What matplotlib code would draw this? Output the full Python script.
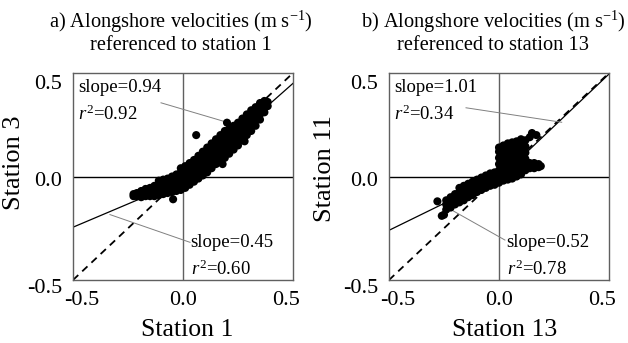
import matplotlib
matplotlib.use("Agg")
from matplotlib import pyplot as plt
from matplotlib.transforms import ScaledTranslation
import numpy as np

plt.rcParams['font.family'] = ['Liberation Serif', 'DejaVu Serif']
plt.rcParams['mathtext.fontset'] = 'custom'
plt.rcParams['mathtext.rm'] = 'Liberation Serif'
plt.rcParams['mathtext.it'] = 'Liberation Serif:italic'

# points (station 1 vs station 3), one column of y values per x
a_cols = [
    (-0.225, [-0.095, -0.085]),
    (-0.21, [-0.095, -0.08]),
    (-0.19, [-0.10, -0.085, -0.07]),
    (-0.17, [-0.095, -0.08, -0.06]),
    (-0.15, [-0.095, -0.075, -0.055]),
    (-0.13, [-0.095, -0.07, -0.045]),
    (-0.11, [-0.09, -0.065, -0.04, -0.02]),
    (-0.09, [-0.085, -0.06, -0.035, -0.015]),
    (-0.07, [-0.08, -0.055, -0.03, -0.01]),
    (-0.05, [-0.075, -0.05, -0.025, 0.0]),
    (-0.045, [-0.11]),
    (-0.03, [-0.07, -0.045, -0.02, 0.01]),
    (-0.01, [-0.065, -0.04, -0.01, 0.02, 0.04]),
    (0.01, [-0.055, -0.03, 0.0, 0.03, 0.05]),
    (0.03, [-0.04, -0.015, 0.015, 0.04, 0.065]),
    (0.05, [-0.025, 0.0, 0.03, 0.055, 0.08]),
    (0.07, [-0.01, 0.015, 0.045, 0.075, 0.10]),
    (0.09, [0.005, 0.03, 0.06, 0.09, 0.12]),
    (0.11, [0.02, 0.05, 0.08, 0.11, 0.14]),
    (0.13, [0.04, 0.07, 0.10, 0.13, 0.16]),
    (0.15, [0.06, 0.09, 0.12, 0.15, 0.18]),
    (0.17, [0.075, 0.105, 0.14, 0.17, 0.20]),
    (0.19, [0.09, 0.12, 0.155, 0.19, 0.22]),
    (0.21, [0.11, 0.14, 0.17, 0.205, 0.23]),
    (0.23, [0.13, 0.16, 0.19, 0.22, 0.245]),
    (0.25, [0.15, 0.18, 0.21, 0.24, 0.26]),
    (0.27, [0.175, 0.205, 0.23, 0.255, 0.28]),
    (0.29, [0.20, 0.225, 0.25, 0.275, 0.30]),
    (0.31, [0.22, 0.245, 0.27, 0.295, 0.32]),
    (0.33, [0.245, 0.27, 0.295, 0.315, 0.335]),
    (0.35, [0.275, 0.30, 0.32, 0.34, 0.355]),
    (0.37, [0.31, 0.33, 0.35, 0.365]),
    (0.385, [0.34, 0.36]),
    (0.06, [0.20]),
    (0.20, [0.26]),
    (0.28, [0.17]),
    (0.18, [0.06]),
]

# points (station 13 vs station 11)
b_cols = [
    (-0.28, [-0.12]),
    (-0.26, [-0.19]),
    (-0.25, [-0.185]),
    (-0.24, [-0.16, -0.135, -0.115]),
    (-0.22, [-0.15, -0.125, -0.10]),
    (-0.20, [-0.135, -0.11, -0.085]),
    (-0.18, [-0.125, -0.10, -0.075, -0.055]),
    (-0.16, [-0.115, -0.09, -0.065, -0.045]),
    (-0.14, [-0.10, -0.08, -0.055, -0.035]),
    (-0.12, [-0.09, -0.065, -0.045, -0.025]),
    (-0.10, [-0.075, -0.055, -0.035, -0.015]),
    (-0.08, [-0.065, -0.045, -0.025, -0.005]),
    (-0.06, [-0.055, -0.035, -0.015, 0.005]),
    (-0.04, [-0.045, -0.025, -0.005, 0.015]),
    (-0.02, [-0.04, -0.02, 0.0, 0.02]),
    (0.00, [-0.03, 0.0, 0.03, 0.06, 0.09, 0.12, 0.14]),
    (0.02, [-0.02, 0.01, 0.04, 0.07, 0.10, 0.13, 0.15]),
    (0.04, [-0.015, 0.015, 0.045, 0.075, 0.105, 0.135, 0.16]),
    (0.06, [-0.01, 0.02, 0.05, 0.08, 0.11, 0.14, 0.165]),
    (0.08, [0.0, 0.03, 0.06, 0.09, 0.12, 0.15, 0.17]),
    (0.10, [0.01, 0.04, 0.07, 0.10, 0.13, 0.16, 0.18]),
    (0.12, [0.03, 0.055, 0.085, 0.115, 0.145, 0.175]),
    (0.14, [0.04, 0.065, 0.19]),
    (0.16, [0.04, 0.065]),
    (0.18, [0.045, 0.06]),
    (0.19, [0.05]),
    (0.15, [0.21]),
    (0.17, [0.20]),
]

# fitted lines: (slope, intercept) for x<0 and x>0
a_fit = [(0.45, -0.02), (0.94, -0.02)]
b_fit = [(0.52, 0.0), (1.01, -0.01)]

a_labels = ["slope=0.94", "$r^2$=0.92", "slope=0.45", "$r^2$=0.60"]
b_labels = ["slope=1.01", "$r^2$=0.34", "slope=0.52", "$r^2$=0.78"]

ticks = [-0.5, 0.0, 0.5]
tick_labels = ["-0.5", "0.0", "0.5"]


def flatten(cols):
    xs, ys = [], []
    for x, yl in cols:
        for y in yl:
            xs.append(x)
            ys.append(y)
    return np.array(xs), np.array(ys)


fig = plt.figure(figsize=(6.28, 3.43), dpi=100)
W, H = 628, 343


def shift(lbl, dx_px, dy_px):
    lbl.set_transform(lbl.get_transform() + ScaledTranslation(dx_px / 100, dy_px / 100, fig.dpi_scale_trans))


def panel(left_px, cols, fit, labels, xlabel, ylabel, up_leader, low_leader):
    ax = fig.add_axes([left_px / W, (H - 280) / H, 220 / W, 207 / H])
    ax.set_xlim(-0.5, 0.5)
    ax.set_ylim(-0.5, 0.5)
    for s in ax.spines.values():
        s.set_color('#606060')
        s.set_linewidth(1.0)
    ax.axvline(0, color='#606060', lw=1.0, zorder=1)
    ax.axhline(0, color='black', lw=1.0, zorder=1)
    ax.plot([-0.5, 0.5], [-0.5, 0.5], color='black', lw=1.3, ls=(0, (4, 3)), zorder=2)
    xl = np.array([-0.5, 0.0])
    xr = np.array([0.0, 0.5])
    ax.plot(xl, fit[0][0] * xl + fit[0][1], color='black', lw=0.9, zorder=2)
    ax.plot(xr, fit[1][0] * xr + fit[1][1], color='black', lw=0.9, zorder=2)
    x, y = flatten(cols)
    ax.scatter(x, y, s=34, color='black', edgecolors='none', zorder=3)

    # annotations with leader lines
    ax.text(-0.475, 0.43, labels[0], fontsize=13.5, va='center', ha='left')
    ax.text(-0.475, 0.30, labels[1], fontsize=13.5, va='center', ha='left')
    ax.text(0.035, -0.318, labels[2], fontsize=13.5, va='center', ha='left')
    ax.text(0.035, -0.446, labels[3], fontsize=13.5, va='center', ha='left')
    ax.plot(up_leader[0], up_leader[1], color='#808080', lw=0.7, zorder=2)
    ax.plot(low_leader[0], low_leader[1], color='#808080', lw=0.7, zorder=2)

    ax.set_xticks(ticks)
    ax.set_xticklabels(tick_labels, fontsize=16)
    ax.set_yticks(ticks)
    ax.set_yticklabels(tick_labels, fontsize=16)
    ax.tick_params(length=0, pad=8)
    xt = ax.get_xticklabels()
    shift(xt[0], 9, 0)
    shift(xt[2], -7, 0)
    yt = ax.get_yticklabels()
    shift(yt[0], 0, -6)
    shift(yt[1], 0, -3)
    shift(yt[2], 0, -9)
    ax.set_xlabel(xlabel, fontsize=18.5)
    ax.set_ylabel(ylabel, fontsize=19)
    return ax


ax1 = panel(73, a_cols, a_fit, a_labels, "Station 1", "Station 3",
            ([-0.10, 0.20], [0.356, 0.262]), ([-0.332, 0.032], [-0.184, -0.318]))
ax2 = panel(389, b_cols, b_fit, b_labels, "Station 13", "Station 11",
            ([-0.15, 0.285], [0.332, 0.262]), ([-0.215, 0.027], [-0.162, -0.307]))

ax1.xaxis.set_label_coords(0.52, -0.19)
ax1.yaxis.set_label_coords(-0.22, 0.565)
ax2.xaxis.set_label_coords(0.527, -0.19)
ax2.yaxis.set_label_coords(-0.24, 0.54)

fig.text(181 / W, 1 - 22 / H, "a) Alongshore velocities (m s$^{-1}$)", fontsize=14.7, ha='center', va='center')
fig.text(181 / W, 1 - 46 / H, "referenced to station 1", fontsize=14.7, ha='center', va='center')
fig.text(493 / W, 1 - 22 / H, "b) Alongshore velocities (m s$^{-1}$)", fontsize=14.7, ha='center', va='center')
fig.text(493 / W, 1 - 46 / H, "referenced to station 13", fontsize=14.7, ha='center', va='center')

fig.savefig("out.png", dpi=100)
